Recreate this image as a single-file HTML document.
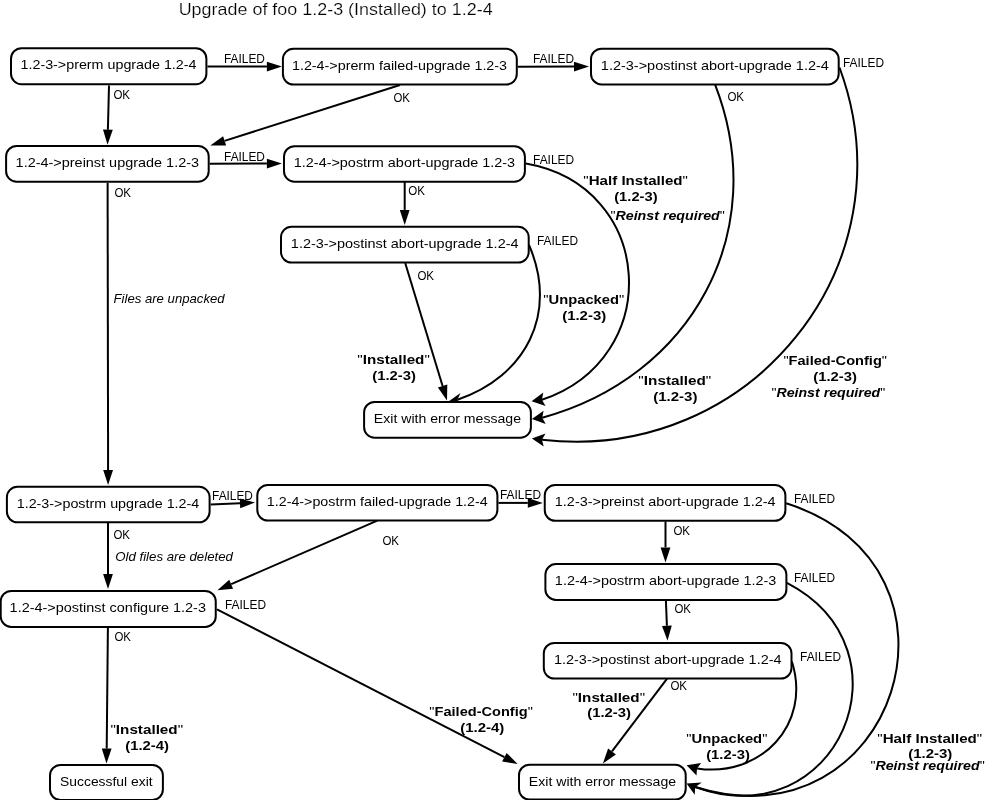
<!DOCTYPE html>
<html><head><meta charset="utf-8"><style>
html,body{margin:0;padding:0;background:#fff;overflow:hidden;}
svg{display:block;will-change:transform;}
.b{fill:#fff;stroke:#000;stroke-width:2;}
.l{fill:none;stroke:#000;stroke-width:2;}
.h{fill:#000;stroke:none;}
text{font-family:"Liberation Sans",sans-serif;fill:#000;}
.t{font-size:13.3px;}
.e{font-size:12.2px;}
.bd{font-size:12.6px;font-weight:bold;}
.it{font-size:12.6px;font-style:italic;}
.ti{font-size:16.5px;stroke:#fff;stroke-width:0.2px;}
.qm{font-weight:normal;}
</style></head><body>
<svg width="985" height="800" viewBox="0 0 985 800">
<path d="M525.9,163.6 C655.6,186.3 665.1,358.7 541.9,399.8" class="l"/>
<path d="M529.0,245.0 C558.8,313.6 525.5,376.8 457.4,399.7" class="l"/>
<path d="M715.1,84.6 C772.2,232.2 691.2,377.1 542.2,417.7" class="l"/>
<path d="M839.5,67.5 C912.5,265.1 749.9,463.8 541.9,439.7" class="l"/>
<path d="M786.2,503.3 C986.6,566.9 895.4,849.2 695.2,787.0" class="l"/>
<path d="M786.9,582.8 C916.9,650.2 837.4,838.1 695.2,787.0" class="l"/>
<path d="M791.9,661.5 C812.0,725.3 759.7,778.1 697.1,768.4" class="l"/>
<path d="M531.6,401.3 L543.3,392.6 L541.9,399.8 L545.6,405.9Z" class="h"/>
<path d="M449.2,400.9 L460.5,393.0 L457.4,399.7 L462.6,406.4Z" class="h"/>
<path d="M531.9,419.1 L543.6,410.7 L542.2,417.7 L545.7,424.0Z" class="h"/>
<path d="M531.9,438.4 L545.5,433.6 L541.9,439.7 L543.7,446.6Z" class="h"/>
<path d="M686.6,783.5 L701.8,782.5 L695.2,787.0 L694.7,794.7Z" class="h"/>
<path d="M686.6,765.2 L701.1,763.1 L697.0,768.4 L696.5,775.5Z" class="h"/>
<path d="M281.9,66.6 L266.9,71.5 L266.9,61.7Z" class="h"/>
<path d="M207.4,66.6 L266.9,66.6" class="l"/>
<path d="M589.0,66.6 L574.0,71.5 L574.0,61.7Z" class="h"/>
<path d="M517.8,66.7 L574.0,66.6" class="l"/>
<path d="M107.5,144.7 L103.0,129.6 L112.8,129.8Z" class="h"/>
<path d="M109.0,85.5 L107.9,129.7" class="l"/>
<path d="M210.3,145.5 L223.1,136.3 L226.1,145.6Z" class="h"/>
<path d="M400.0,85.0 L224.6,140.9" class="l"/>
<path d="M281.9,163.6 L266.9,168.5 L266.9,158.7Z" class="h"/>
<path d="M209.7,163.7 L266.9,163.6" class="l"/>
<path d="M404.7,224.9 L399.8,209.9 L409.6,209.9Z" class="h"/>
<path d="M404.7,182.0 L404.7,209.9" class="l"/>
<path d="M447.0,400.4 L437.9,387.5 L447.3,384.6Z" class="h"/>
<path d="M405.2,263.0 L442.6,386.0" class="l"/>
<path d="M108.1,485.0 L103.2,470.0 L113.0,470.0Z" class="h"/>
<path d="M107.6,183.0 L108.1,470.0" class="l"/>
<path d="M255.0,502.6 L240.2,508.2 L239.8,498.4Z" class="h"/>
<path d="M210.6,504.6 L240.0,503.3" class="l"/>
<path d="M542.8,502.9 L527.8,507.8 L527.8,498.0Z" class="h"/>
<path d="M498.4,502.9 L527.8,502.9" class="l"/>
<path d="M108.0,589.0 L103.1,574.0 L112.9,574.0Z" class="h"/>
<path d="M108.0,523.0 L108.0,574.0" class="l"/>
<path d="M217.4,590.2 L229.2,579.7 L233.1,588.7Z" class="h"/>
<path d="M377.3,520.6 L231.2,584.2" class="l"/>
<path d="M665.5,562.4 L660.6,547.4 L670.4,547.4Z" class="h"/>
<path d="M665.5,521.5 L665.5,547.4" class="l"/>
<path d="M667.5,640.8 L662.0,626.0 L671.8,625.6Z" class="h"/>
<path d="M665.9,600.5 L666.9,625.8" class="l"/>
<path d="M517.7,764.1 L502.1,761.6 L506.6,752.9Z" class="h"/>
<path d="M217.0,609.4 L504.4,757.2" class="l"/>
<path d="M602.9,763.4 L608.1,748.5 L615.9,754.4Z" class="h"/>
<path d="M667.1,678.7 L612.0,751.4" class="l"/>
<path d="M106.5,763.5 L101.8,748.5 L111.6,748.6Z" class="h"/>
<path d="M107.9,627.0 L106.7,748.5" class="l"/>
<rect x="11.00" y="48.20" width="195.40" height="36.00" rx="10.5" ry="10.5" class="b"/>
<rect x="282.90" y="48.80" width="233.90" height="35.70" rx="10.5" ry="10.5" class="b"/>
<rect x="591.00" y="48.70" width="247.70" height="35.70" rx="10.5" ry="10.5" class="b"/>
<rect x="6.10" y="145.90" width="202.60" height="35.80" rx="10.5" ry="10.5" class="b"/>
<rect x="284.00" y="146.20" width="240.90" height="35.50" rx="10.5" ry="10.5" class="b"/>
<rect x="281.00" y="226.80" width="247.70" height="35.70" rx="10.5" ry="10.5" class="b"/>
<rect x="364.10" y="401.90" width="166.80" height="35.80" rx="10.5" ry="10.5" class="b"/>
<rect x="6.90" y="486.80" width="202.70" height="35.50" rx="10.5" ry="10.5" class="b"/>
<rect x="257.30" y="485.00" width="240.10" height="35.60" rx="10.5" ry="10.5" class="b"/>
<rect x="544.75" y="484.90" width="240.65" height="35.90" rx="10.5" ry="10.5" class="b"/>
<rect x="0.70" y="591.00" width="215.05" height="35.90" rx="10.5" ry="10.5" class="b"/>
<rect x="545.40" y="564.10" width="241.00" height="35.80" rx="10.5" ry="10.5" class="b"/>
<rect x="543.80" y="642.90" width="247.70" height="35.60" rx="10.5" ry="10.5" class="b"/>
<rect x="50.00" y="764.90" width="112.90" height="35.10" rx="10.5" ry="10.5" class="b"/>
<rect x="519.00" y="764.70" width="166.70" height="34.90" rx="10.5" ry="10.5" class="b"/>
<text x="178.65" y="14.80" textLength="313.99" lengthAdjust="spacingAndGlyphs" class="ti">Upgrade of foo 1.2-3 (Installed) to 1.2-4</text>
<text x="20.53" y="68.90" textLength="175.96" lengthAdjust="spacingAndGlyphs" class="t">1.2-3-&gt;prerm upgrade 1.2-4</text>
<text x="291.98" y="69.50" textLength="215.08" lengthAdjust="spacingAndGlyphs" class="t">1.2-4-&gt;prerm failed-upgrade 1.2-3</text>
<text x="600.89" y="69.70" textLength="227.97" lengthAdjust="spacingAndGlyphs" class="t">1.2-3-&gt;postinst abort-upgrade 1.2-4</text>
<text x="15.64" y="167.10" textLength="183.38" lengthAdjust="spacingAndGlyphs" class="t">1.2-4-&gt;preinst upgrade 1.2-3</text>
<text x="293.85" y="167.10" textLength="221.29" lengthAdjust="spacingAndGlyphs" class="t">1.2-4-&gt;postrm abort-upgrade 1.2-3</text>
<text x="290.85" y="248.00" textLength="227.68" lengthAdjust="spacingAndGlyphs" class="t">1.2-3-&gt;postinst abort-upgrade 1.2-4</text>
<text x="373.85" y="422.80" textLength="147.14" lengthAdjust="spacingAndGlyphs" class="t">Exit with error message</text>
<text x="16.73" y="507.80" textLength="182.53" lengthAdjust="spacingAndGlyphs" class="t">1.2-3-&gt;postrm upgrade 1.2-4</text>
<text x="266.87" y="506.00" textLength="220.79" lengthAdjust="spacingAndGlyphs" class="t">1.2-4-&gt;postrm failed-upgrade 1.2-4</text>
<text x="554.87" y="505.80" textLength="220.66" lengthAdjust="spacingAndGlyphs" class="t">1.2-3-&gt;preinst abort-upgrade 1.2-4</text>
<text x="9.64" y="611.80" textLength="196.35" lengthAdjust="spacingAndGlyphs" class="t">1.2-4-&gt;postinst configure 1.2-3</text>
<text x="554.89" y="585.00" textLength="221.44" lengthAdjust="spacingAndGlyphs" class="t">1.2-4-&gt;postrm abort-upgrade 1.2-3</text>
<text x="553.97" y="664.10" textLength="227.55" lengthAdjust="spacingAndGlyphs" class="t">1.2-3-&gt;postinst abort-upgrade 1.2-4</text>
<text x="60.05" y="785.90" textLength="92.54" lengthAdjust="spacingAndGlyphs" class="t">Successful exit</text>
<text x="528.86" y="785.90" textLength="147.27" lengthAdjust="spacingAndGlyphs" class="t">Exit with error message</text>
<text x="223.98" y="62.90" textLength="40.96" lengthAdjust="spacingAndGlyphs" class="e">FAILED</text>
<text x="532.97" y="62.60" textLength="41.01" lengthAdjust="spacingAndGlyphs" class="e">FAILED</text>
<text x="842.97" y="66.80" textLength="41.01" lengthAdjust="spacingAndGlyphs" class="e">FAILED</text>
<text x="224.05" y="160.70" textLength="40.90" lengthAdjust="spacingAndGlyphs" class="e">FAILED</text>
<text x="533.06" y="163.60" textLength="41.09" lengthAdjust="spacingAndGlyphs" class="e">FAILED</text>
<text x="537.00" y="244.80" textLength="41.02" lengthAdjust="spacingAndGlyphs" class="e">FAILED</text>
<text x="212.06" y="499.50" textLength="40.89" lengthAdjust="spacingAndGlyphs" class="e">FAILED</text>
<text x="500.00" y="499.00" textLength="41.02" lengthAdjust="spacingAndGlyphs" class="e">FAILED</text>
<text x="793.97" y="502.70" textLength="41.01" lengthAdjust="spacingAndGlyphs" class="e">FAILED</text>
<text x="793.97" y="581.90" textLength="41.01" lengthAdjust="spacingAndGlyphs" class="e">FAILED</text>
<text x="800.03" y="660.60" textLength="41.09" lengthAdjust="spacingAndGlyphs" class="e">FAILED</text>
<text x="225.00" y="608.90" textLength="41.02" lengthAdjust="spacingAndGlyphs" class="e">FAILED</text>
<text x="113.38" y="98.80" textLength="16.67" lengthAdjust="spacingAndGlyphs" class="e">OK</text>
<text x="393.46" y="101.90" textLength="16.52" lengthAdjust="spacingAndGlyphs" class="e">OK</text>
<text x="727.38" y="100.70" textLength="16.67" lengthAdjust="spacingAndGlyphs" class="e">OK</text>
<text x="114.38" y="196.70" textLength="16.67" lengthAdjust="spacingAndGlyphs" class="e">OK</text>
<text x="408.34" y="195.00" textLength="16.66" lengthAdjust="spacingAndGlyphs" class="e">OK</text>
<text x="417.38" y="279.80" textLength="16.67" lengthAdjust="spacingAndGlyphs" class="e">OK</text>
<text x="113.46" y="538.70" textLength="16.52" lengthAdjust="spacingAndGlyphs" class="e">OK</text>
<text x="382.38" y="545.00" textLength="16.67" lengthAdjust="spacingAndGlyphs" class="e">OK</text>
<text x="673.43" y="534.90" textLength="16.63" lengthAdjust="spacingAndGlyphs" class="e">OK</text>
<text x="674.46" y="613.00" textLength="16.52" lengthAdjust="spacingAndGlyphs" class="e">OK</text>
<text x="670.38" y="690.00" textLength="16.67" lengthAdjust="spacingAndGlyphs" class="e">OK</text>
<text x="114.46" y="640.80" textLength="16.52" lengthAdjust="spacingAndGlyphs" class="e">OK</text>
<text x="113.54" y="303.00" textLength="111.05" lengthAdjust="spacingAndGlyphs" class="it">Files are unpacked</text>
<text x="115.21" y="560.80" textLength="117.74" lengthAdjust="spacingAndGlyphs" class="it">Old files are deleted</text>
<text x="583.36" y="184.90" textLength="104.57" lengthAdjust="spacingAndGlyphs" class="bd"><tspan class="qm">"</tspan>Half Installed<tspan class="qm">"</tspan></text>
<text x="614.20" y="201.10" textLength="43.39" lengthAdjust="spacingAndGlyphs" class="bd">(1.2-3)</text>
<text x="610.41" y="219.50" textLength="114.45" lengthAdjust="spacingAndGlyphs" class="bd"><tspan class="qm">"</tspan><tspan font-style="italic">Reinst required</tspan><tspan class="qm">"</tspan></text>
<text x="543.32" y="303.75" textLength="80.90" lengthAdjust="spacingAndGlyphs" class="bd"><tspan class="qm">"</tspan>Unpacked<tspan class="qm">"</tspan></text>
<text x="562.21" y="319.50" textLength="43.97" lengthAdjust="spacingAndGlyphs" class="bd">(1.2-3)</text>
<text x="357.28" y="363.55" textLength="72.55" lengthAdjust="spacingAndGlyphs" class="bd"><tspan class="qm">"</tspan>Installed<tspan class="qm">"</tspan></text>
<text x="372.26" y="379.90" textLength="43.56" lengthAdjust="spacingAndGlyphs" class="bd">(1.2-3)</text>
<text x="638.35" y="385.00" textLength="72.97" lengthAdjust="spacingAndGlyphs" class="bd"><tspan class="qm">"</tspan>Installed<tspan class="qm">"</tspan></text>
<text x="653.15" y="401.00" textLength="44.32" lengthAdjust="spacingAndGlyphs" class="bd">(1.2-3)</text>
<text x="783.40" y="364.80" textLength="103.62" lengthAdjust="spacingAndGlyphs" class="bd"><tspan class="qm">"</tspan>Failed-Config<tspan class="qm">"</tspan></text>
<text x="813.27" y="380.60" textLength="43.69" lengthAdjust="spacingAndGlyphs" class="bd">(1.2-3)</text>
<text x="771.42" y="396.50" textLength="113.88" lengthAdjust="spacingAndGlyphs" class="bd"><tspan class="qm">"</tspan><tspan font-style="italic">Reinst required</tspan><tspan class="qm">"</tspan></text>
<text x="110.43" y="733.70" textLength="72.66" lengthAdjust="spacingAndGlyphs" class="bd"><tspan class="qm">"</tspan>Installed<tspan class="qm">"</tspan></text>
<text x="125.19" y="749.70" textLength="43.71" lengthAdjust="spacingAndGlyphs" class="bd">(1.2-4)</text>
<text x="429.33" y="715.60" textLength="103.56" lengthAdjust="spacingAndGlyphs" class="bd"><tspan class="qm">"</tspan>Failed-Config<tspan class="qm">"</tspan></text>
<text x="460.21" y="731.90" textLength="44.11" lengthAdjust="spacingAndGlyphs" class="bd">(1.2-4)</text>
<text x="572.44" y="701.90" textLength="72.63" lengthAdjust="spacingAndGlyphs" class="bd"><tspan class="qm">"</tspan>Installed<tspan class="qm">"</tspan></text>
<text x="587.24" y="717.40" textLength="43.81" lengthAdjust="spacingAndGlyphs" class="bd">(1.2-3)</text>
<text x="686.31" y="742.75" textLength="81.11" lengthAdjust="spacingAndGlyphs" class="bd"><tspan class="qm">"</tspan>Unpacked<tspan class="qm">"</tspan></text>
<text x="706.20" y="758.80" textLength="43.66" lengthAdjust="spacingAndGlyphs" class="bd">(1.2-3)</text>
<text x="877.30" y="742.70" textLength="104.96" lengthAdjust="spacingAndGlyphs" class="bd"><tspan class="qm">"</tspan>Half Installed<tspan class="qm">"</tspan></text>
<text x="908.22" y="758.10" textLength="44.14" lengthAdjust="spacingAndGlyphs" class="bd">(1.2-3)</text>
<text x="870.40" y="770.30" textLength="114.30" lengthAdjust="spacingAndGlyphs" class="bd"><tspan class="qm">"</tspan><tspan font-style="italic">Reinst required</tspan><tspan class="qm">"</tspan></text>
</svg></body></html>
